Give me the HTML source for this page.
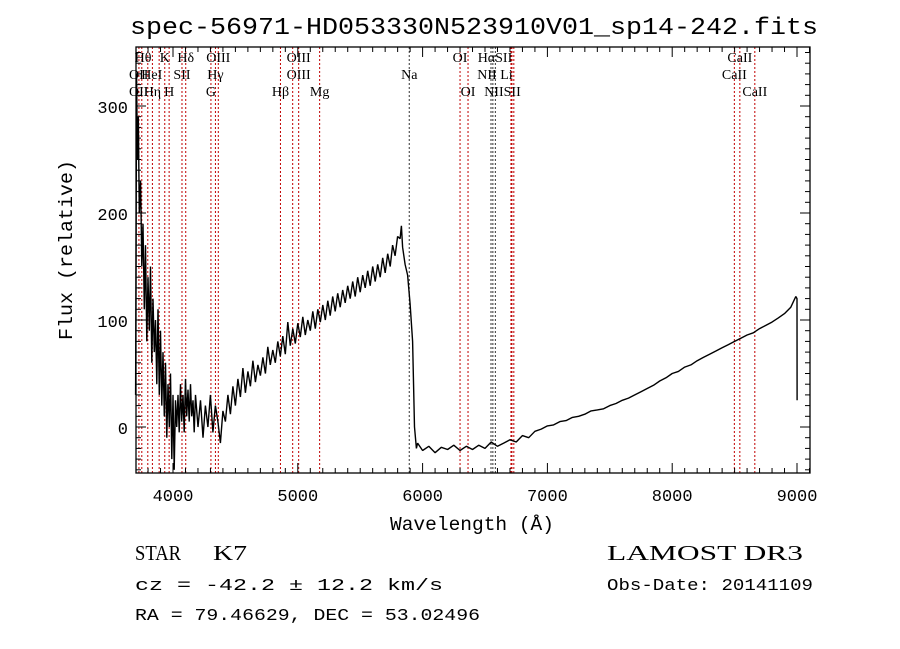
<!DOCTYPE html>
<html><head><meta charset="utf-8"><style>
html,body{margin:0;padding:0;background:#fff;}
svg{display:block;}
text{font-family:"Liberation Mono",monospace;fill:#000;}
.ser{font-family:"Liberation Serif",serif;}
</style></head><body>
<svg id="chart" width="900" height="649" viewBox="0 0 900 649" xmlns="http://www.w3.org/2000/svg">
<rect width="900" height="649" fill="#fff"/>
<text x="130" y="34" font-size="24" textLength="688" lengthAdjust="spacingAndGlyphs">spec-56971-HD053330N523910V01_sp14-242.fits</text>
<g id="lines"></g>
<g id="labels"></g>
<path id="spec" fill="none" stroke="#000" stroke-width="1.4" stroke-linejoin="bevel"/>
<g id="axes"></g>
<text x="390" y="530" font-size="19" textLength="164" lengthAdjust="spacingAndGlyphs">Wavelength (Å)</text>
<text transform="translate(72,340) rotate(-90)" font-size="19" textLength="180" lengthAdjust="spacingAndGlyphs">Flux (relative)</text>
<text x="135" y="560" font-size="21" class="ser" textLength="46" lengthAdjust="spacingAndGlyphs">STAR</text>
<text x="213" y="560" font-size="21" class="ser" textLength="34" lengthAdjust="spacingAndGlyphs">K7</text>
<text x="135" y="590" font-size="17" textLength="308" lengthAdjust="spacingAndGlyphs">cz = -42.2 ± 12.2 km/s</text>
<text x="135" y="620" font-size="17" textLength="345" lengthAdjust="spacingAndGlyphs">RA =  79.46629, DEC =  53.02496</text>
<text x="607" y="560" font-size="21" class="ser" textLength="196" lengthAdjust="spacingAndGlyphs">LAMOST DR3</text>
<text x="607" y="590" font-size="17" textLength="206" lengthAdjust="spacingAndGlyphs">Obs-Date: 20141109</text>
</svg>
<script>
const wave=[3700,3708,3715,3722,3730,3740,3750,3760,3770,3780,3790,3800,3810,3820,3830,3840,3850,3860,3870,3880,3890,3900,3910,3920,3930,3940,3950,3960,3970,3980,3990,4000,4010,4020,4030,4040,4050,4060,4070,4080,4090,4100,4110,4120,4130,4140,4150,4160,4170,4180,4200,4220,4240,4260,4280,4300,4320,4340,4360,4380,4400,4420,4440,4460,4480,4500,4520,4540,4560,4580,4600,4620,4640,4660,4680,4700,4720,4740,4760,4780,4800,4820,4840,4860,4880,4900,4920,4940,4960,4980,5000,5020,5040,5060,5080,5100,5120,5140,5160,5180,5200,5220,5240,5260,5280,5300,5320,5340,5360,5380,5400,5420,5440,5460,5480,5500,5520,5540,5560,5580,5600,5620,5640,5660,5680,5700,5720,5740,5760,5780,5800,5820,5830,5840,5860,5880,5900,5920,5935,5950,5960,6000,6050,6100,6150,6200,6250,6300,6350,6400,6450,6500,6550,6600,6650,6700,6750,6800,6850,6900,6950,7000,7050,7100,7150,7200,7250,7300,7350,7400,7450,7500,7550,7600,7650,7700,7750,7800,7850,7900,7950,8000,8050,8100,8150,8200,8250,8300,8350,8400,8450,8500,8550,8600,8650,8700,8750,8800,8850,8900,8950,8990,9000,9001];
const flux=[30,330,250,290,200,230,150,190,110,170,80,140,90,150,60,120,70,100,40,110,30,90,20,70,10,60,-10,40,0,50,-30,30,-40,25,0,30,-5,40,5,30,-5,45,10,35,5,40,10,25,-5,30,0,25,-10,20,0,30,-5,20,5,-15,15,5,30,12,38,20,45,28,55,32,52,38,62,42,58,48,65,50,75,58,72,60,80,66,85,68,98,76,92,78,97,84,103,86,100,90,108,92,110,98,114,100,118,104,122,108,125,112,128,116,132,120,136,122,140,126,142,130,146,132,150,136,152,140,158,144,162,150,170,160,178,176,188,168,152,142,115,80,0,-20,-15,-22,-18,-24,-19,-21,-17,-22,-18,-21,-17,-20,-14,-18,-15,-12,-14,-8,-10,-4,-2,1,2,5,6,9,10,12,15,16,17,20,22,25,27,30,33,36,39,43,46,50,52,56,58,62,65,68,71,74,77,80,83,86,88,92,95,98,102,106,112,122,120,25];
const lineWaves=[3727,3750,3798,3835,3889,3934,3969,4072,4102,4304,4340,4363,4861,4959,5007,5175,5893,6300,6364,6548,6563,6583,6708,6716,6731,8498,8542,8662];
const lineDark=[0,0,0,0,0,0,0,0,0,0,0,0,0,0,0,0,1,0,0,1,1,1,0,0,0,0,0,0];
const tickX=[4000,5000,6000,7000,8000,9000];
const tickY=[0,100,200,300];
const labelTexts=["Hθ","K","Hδ","OIII","OIII","OII","HeI","SII","Hγ","OIII","OII","Hη","H","G","Hβ","Mg","Na","OI","OI","HαSII","NII Li","NIISII","CaII","CaII","CaII"];
const labelWaves=[3760,3934,4102,4363,5007,3700,3830,4072,4340,5007,3700,3835,3969,4304,4861,5175,5893,6300,6364,6580,6580,6640,8542,8498,8662];
const labelRows=[0,0,0,0,0,1,1,1,1,1,2,2,2,2,2,2,1,0,2,0,1,2,0,1,2];

const L=136,R=810,T=47,B=473;
const X=w=>173+(w-4000)*0.1248;
const Y=f=>427-f*1.07;
const NS="http://www.w3.org/2000/svg";
function mk(tag,attrs,parent){const e=document.createElementNS(NS,tag);for(const k in attrs)e.setAttribute(k,attrs[k]);parent.appendChild(e);return e;}

let d="";
for(let i=0;i<wave.length;i++){d+=(i?"L":"M")+X(wave[i]).toFixed(1)+","+Math.max(T,Math.min(B,Y(flux[i]))).toFixed(1);}
document.getElementById('spec').setAttribute('d',d);

const lg=document.getElementById('lines');
lineWaves.forEach((w,i)=>{
  const l=mk('line',{x1:X(w),x2:X(w),y1:T,y2:B,stroke:lineDark[i]?'#333':'#c00000','stroke-width':1,'stroke-dasharray':'2,2'},lg);
  
  
});
const lb=document.getElementById('labels');
const rowY=[62,79,96];
labelTexts.forEach((t,i)=>{
  const left=labelWaves[i]<3720;
  const e=mk('text',{x:left?129:X(labelWaves[i]),y:rowY[labelRows[i]],'font-size':14,'class':'ser','text-anchor':left?'start':'middle'},lb);
  e.textContent=t;
  
  
});

const ax=document.getElementById('axes');
const fr=mk('rect',{x:L,y:T,width:R-L,height:B-T,fill:'none',stroke:'#000','stroke-width':1.3},ax);


for(let w=3800;w<=9100;w+=100){
  const x=X(w);const big=w%1000===0;const len=big?10:5;
  mk('line',{x1:x,x2:x,y1:B,y2:B-len,stroke:'#000'},ax);
  mk('line',{x1:x,x2:x,y1:T,y2:T+len,stroke:'#000'},ax);
}
for(let f=-40;f<=350;f+=10){
  const y=Y(f);const big=f%100===0;const len=big?10:5;
  mk('line',{x1:L,x2:L+len,y1:y,y2:y,stroke:'#000'},ax);
  mk('line',{x1:R,x2:R-len,y1:y,y2:y,stroke:'#000'},ax);
}
tickX.forEach(v=>{
  const t=mk('text',{x:X(v),y:501,'font-size':17,'text-anchor':'middle'},ax);t.textContent=v;
  
  
});
tickY.forEach(v=>{
  const t=mk('text',{x:128,y:Y(v)+7,'font-size':17,'text-anchor':'end'},ax);t.textContent=v;
  
  
});
</script>
</body></html>
